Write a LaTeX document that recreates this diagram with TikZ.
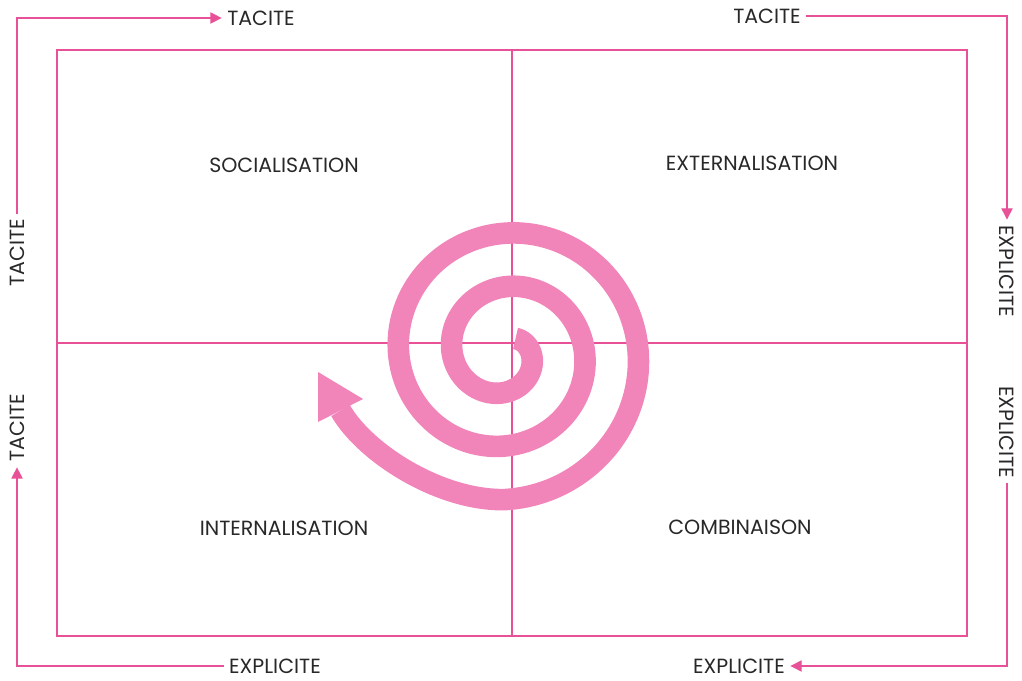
\documentclass[tikz,border=0pt]{standalone}
\usepackage{fontspec}
\setmainfont{Poppins}
\usetikzlibrary{arrows.meta}
\definecolor{rose}{RGB}{232,80,152}
\definecolor{spiralpink}{RGB}{241,132,184}
\definecolor{ink}{RGB}{40,40,40}

\begin{document}
\begin{tikzpicture}[x=0.025cm,y=-0.025cm,>={Triangle[length=8pt,width=8pt]},
  font=\fontsize{14.6}{17}\selectfont,
  axe/.style={draw=rose,line width=0.9pt},
  lbl/.style={text=ink,inner sep=0pt,outer sep=4pt},
  quad/.style={text=ink,inner sep=0pt},
  spirale/.style={draw=spiralpink,line width=0.54cm}]
\useasboundingbox (0,0) rectangle (1022,681);
% matrice
\draw[axe] (57,50) rectangle (967,636);
\draw[axe] (512,50)--(512,636) (57,343)--(967,343);
\foreach \nom/\px/\py/\txt in {
  soc/284/165/SOCIALISATION,
  ext/752/163/EXTERNALISATION,
  int/284/528/INTERNALISATION,
  com/740/527/COMBINAISON%
}{
  \node[quad] (\nom) at (\px,\py) {\txt};
}
% spirale
\draw[spirale] plot[domain=-54:810,samples=220,smooth]
  ({505+(26+13.4*\x/90)*cos(\x)},{353+(26+13.4*\x/90)*sin(\x)})
  .. controls (440,501) and (365,453) .. (340.5,410.5);
\fill[spiralpink] (318,372)--(318,422)--(363,399)--cycle;
% axes tacite / explicite
\node[lbl] (tt1) at (261,18) {TACITE};
\node[lbl] (tt2) at (767,16) {TACITE};
\node[lbl,rotate=90] (tl1) at (17,253) {TACITE};
\node[lbl,rotate=90] (tl2) at (17,428) {TACITE};
\node[lbl,rotate=-90] (er1) at (1007,271) {EXPLICITE};
\node[lbl,rotate=-90] (er2) at (1007,432) {EXPLICITE};
\node[lbl] (eb1) at (275,666) {EXPLICITE};
\node[lbl] (eb2) at (739,666) {EXPLICITE};
\draw[axe,->] (tl1.east) |- (tt1.west);
\draw[axe,->] (tt2.east) -| (er1.west);
\draw[axe,->] (er2.east) |- (eb2.east);
\draw[axe,->] (eb1.west) -| (tl2.west);
\end{tikzpicture}
\end{document}
